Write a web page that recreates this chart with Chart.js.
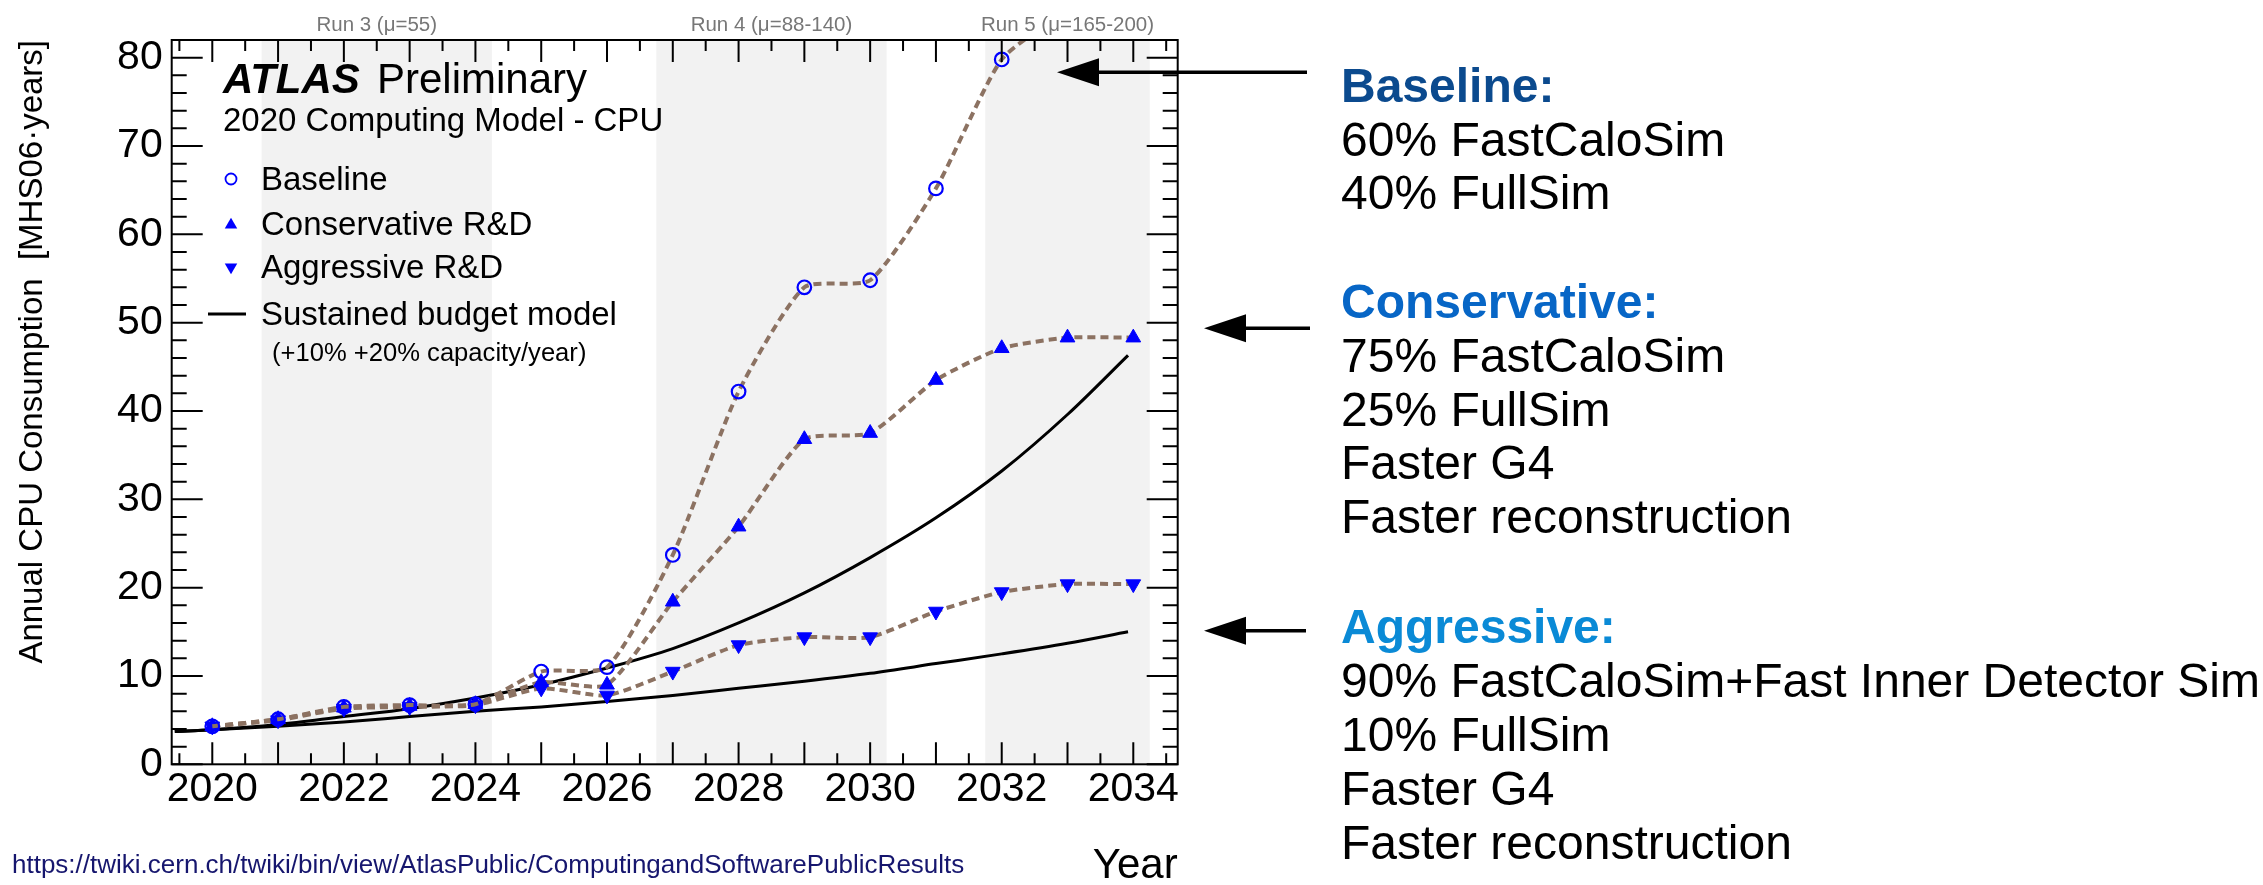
<!DOCTYPE html>
<html>
<head>
<meta charset="utf-8">
<script src="https://cdn.jsdelivr.net/npm/chart.js@4.4.1/dist/chart.umd.min.js"></script>
<style>
  html, body { margin: 0; padding: 0; background: #ffffff; }
  #wrap { width: 2263px; height: 885px; position: relative; }
</style>
</head>
<body>
<div id="wrap"><canvas id="c" width="2263" height="885"></canvas></div>
<script>
// ---- data ----
const years = [2020, 2021, 2022, 2023, 2024, 2025, 2026, 2027, 2028, 2029, 2030, 2031, 2032, 2033, 2034];
const baseline     = [4.3, 5.1, 6.5, 6.7, 6.8, 10.5, 11.0, 23.7, 42.2, 54.0, 54.8, 65.2, 79.8, 85.4, null];
const conservative = [4.3, 5.1, 6.4, 6.6, 6.8,  9.3,  9.0, 18.4, 26.9, 36.8, 37.5, 43.5, 47.1, 48.3, 48.3];
const aggressive   = [4.3, 5.0, 6.3, 6.5, 6.7,  8.6,  7.8, 10.5, 13.5, 14.4, 14.4, 17.3, 19.5, 20.4, 20.4];

// sustained budget model curves (+20% and +10% capacity per year)
const budgetYears = [2019.43, 2020, 2021, 2022, 2023, 2024, 2025, 2026, 2027, 2028, 2029, 2030, 2031, 2032, 2033, 2033.92];
const budgetHigh  = [3.7, 3.9, 4.5, 5.4, 6.3, 7.5, 9.0, 10.9, 13.1, 16.0, 19.4, 23.4, 27.9, 33.2, 39.6, 46.3];
const budgetLow   = [3.7, 3.9, 4.3, 4.8, 5.4, 6.0, 6.5, 7.1, 7.8, 8.6, 9.4, 10.3, 11.4, 12.5, 13.7, 15.0];

// LHC run periods
const runNames  = ['Run 3 (\u03bc=55)', 'Run 4 (\u03bc=88-140)', 'Run 5 (\u03bc=165-200)'];
const runStart  = [2020.75, 2026.75, 2031.75];
const runEnd    = [2024.25, 2030.25, 2034.25];

// axis tick labels
const xTickYears = [2020, 2022, 2024, 2026, 2028, 2030, 2032, 2034];
const yTickVals  = [0, 10, 20, 30, 40, 50, 60, 70, 80];

// scenario notes
const noteGroups = [
  { title: 'Baseline:',     color: '#0b4a8e', lines: ['60% FastCaloSim', '40% FullSim'] },
  { title: 'Conservative:', color: '#0766c6', lines: ['75% FastCaloSim', '25% FullSim', 'Faster G4', 'Faster reconstruction'] },
  { title: 'Aggressive:',   color: '#0a8ad6', lines: ['90% FastCaloSim+Fast Inner Detector Sim', '10% FullSim', 'Faster G4', 'Faster reconstruction'] }
];

const FONT = '"Liberation Sans", Arial, Helvetica, sans-serif';
const DASH_COLOR = '#8c7262';
const MARK_COLOR = '#0000ff';

const pts = (xs, ys) => xs.map((x, i) => ({ x, y: ys[i] }));

// ---- decorations: run bands, inward ticks, frame, texts, legend, arrows ----
const decor = {
  id: 'decor',
  beforeDatasetsDraw(chart) {
    const { ctx, chartArea: a, scales: { x } } = chart;
    ctx.save();
    ctx.fillStyle = '#f2f2f2';
    runStart.forEach((s, i) => {
      const x0 = x.getPixelForValue(s), x1 = x.getPixelForValue(runEnd[i]);
      ctx.fillRect(x0, a.top, x1 - x0, a.bottom - a.top);
    });
    ctx.restore();
  },
  afterDatasetsDraw(chart) {
    const { ctx, chartArea: a, scales: { x, y } } = chart;
    ctx.save();
    ctx.strokeStyle = '#000';
    ctx.lineWidth = 2;
    ctx.beginPath();
    for (let v = 2019.5; v <= 2034.51; v += 0.5) {
      const px = x.getPixelForValue(v);
      const len = Math.abs(v - Math.round(v)) < 1e-6 ? 22 : 11;
      ctx.moveTo(px, a.bottom); ctx.lineTo(px, a.bottom - len);
      ctx.moveTo(px, a.top);    ctx.lineTo(px, a.top + len);
    }
    for (let v = 0; v <= 80; v += 2) {
      const py = y.getPixelForValue(v);
      const len = v % 10 === 0 ? 31 : 15;
      ctx.moveTo(a.left, py);  ctx.lineTo(a.left + len, py);
      ctx.moveTo(a.right, py); ctx.lineTo(a.right - len, py);
    }
    ctx.stroke();
    ctx.strokeRect(a.left, a.top, a.right - a.left, a.bottom - a.top);
    ctx.restore();
  },
  afterDraw(chart) {
    const { ctx, scales: { x } } = chart;
    ctx.save();
    ctx.textBaseline = 'alphabetic';

    // run labels above the frame
    ctx.fillStyle = '#777777';
    ctx.font = '20.5px ' + FONT;
    ctx.textAlign = 'center';
    runNames.forEach((n, i) => {
      ctx.fillText(n, x.getPixelForValue((runStart[i] + runEnd[i]) / 2), 31);
    });

    // header
    ctx.textAlign = 'left';
    ctx.fillStyle = '#000';
    ctx.font = 'italic bold 42px ' + FONT;
    ctx.fillText('ATLAS', 223, 93);
    ctx.font = '42px ' + FONT;
    ctx.fillText('Preliminary', 377, 93);
    ctx.font = '33px ' + FONT;
    ctx.fillText('2020 Computing Model - CPU', 223, 131);

    // legend
    const mx = 231;
    ctx.font = '33px ' + FONT;
    ctx.fillText('Baseline', 261, 190);
    ctx.fillText('Conservative R&D', 261, 235);
    ctx.fillText('Aggressive R&D', 261, 278);
    ctx.fillText('Sustained budget model', 261, 325);
    ctx.font = '25.6px ' + FONT;
    ctx.fillText('(+10% +20% capacity/year)', 272, 361);

    ctx.strokeStyle = MARK_COLOR;
    ctx.fillStyle = MARK_COLOR;
    ctx.lineWidth = 1.8;
    ctx.beginPath(); ctx.arc(mx, 179, 5.5, 0, Math.PI * 2); ctx.stroke();
    const tri = (cx, cy, r, down) => {
      const s = down ? -1 : 1;
      ctx.beginPath();
      ctx.moveTo(cx, cy - s * r);
      ctx.lineTo(cx + r * 0.866, cy + s * r * 0.5);
      ctx.lineTo(cx - r * 0.866, cy + s * r * 0.5);
      ctx.closePath(); ctx.fill();
    };
    tri(mx, 225, 7.2, false);
    tri(mx, 267, 7.2, true);
    ctx.strokeStyle = '#000';
    ctx.lineWidth = 3;
    ctx.beginPath(); ctx.moveTo(208, 314); ctx.lineTo(246, 314); ctx.stroke();

    // source link
    ctx.fillStyle = '#16166e';
    ctx.font = '26px ' + FONT;
    ctx.fillText('https://twiki.cern.ch/twiki/bin/view/AtlasPublic/ComputingandSoftwarePublicResults', 12, 873);

    // arrows pointing at the scenarios
    const arrow = (tipX, yy, endX) => {
      ctx.fillStyle = '#000';
      ctx.strokeStyle = '#000';
      ctx.lineWidth = 3.5;
      ctx.beginPath(); ctx.moveTo(tipX + 30, yy); ctx.lineTo(endX, yy); ctx.stroke();
      ctx.beginPath();
      ctx.moveTo(tipX, yy);
      ctx.lineTo(tipX + 42, yy - 14);
      ctx.lineTo(tipX + 42, yy + 14);
      ctx.closePath(); ctx.fill();
    };
    arrow(1057, 72.3, 1307);
    arrow(1204, 328.3, 1310);
    arrow(1204, 630.7, 1306);

    // scenario descriptions
    const starts = [101.7, 318, 643.3];
    const lh = 53.8;
    noteGroups.forEach((g, gi) => {
      let yy = starts[gi];
      ctx.font = 'bold 48px ' + FONT;
      ctx.fillStyle = g.color;
      ctx.fillText(g.title, 1341, yy);
      ctx.font = '48px ' + FONT;
      ctx.fillStyle = '#000';
      g.lines.forEach(l => { yy += lh; ctx.fillText(l, 1341, yy); });
    });
    ctx.restore();
  }
};

const dashed = {
  borderColor: DASH_COLOR,
  borderWidth: 4,
  borderDash: [8, 5],
  tension: 0.2,
  clip: 0,
  pointBackgroundColor: MARK_COLOR,
  pointBorderColor: MARK_COLOR,
  pointHoverRadius: 0
};

new Chart(document.getElementById('c'), {
  type: 'line',
  data: {
    datasets: [
      { label: 'Sustained budget model +20%', data: pts(budgetYears, budgetHigh), borderColor: '#000', borderWidth: 3,
        pointRadius: 0, cubicInterpolationMode: 'monotone', clip: 0, order: 5 },
      { label: 'Sustained budget model +10%', data: pts(budgetYears, budgetLow), borderColor: '#000', borderWidth: 3,
        pointRadius: 0, cubicInterpolationMode: 'monotone', clip: 0, order: 4 },
      Object.assign({ label: 'Aggressive R&D', data: pts(years, aggressive), pointStyle: 'triangle', rotation: 180,
        pointRadius: 8.5, pointBorderWidth: 1, order: 3 }, dashed),
      Object.assign({ label: 'Conservative R&D', data: pts(years, conservative), pointStyle: 'triangle', rotation: 0,
        pointRadius: 8.5, pointBorderWidth: 1, order: 2 }, dashed),
      Object.assign({}, dashed, { label: 'Baseline', data: pts(years, baseline), pointStyle: 'circle',
        pointRadius: 6.8, pointBorderWidth: 2.2, pointBackgroundColor: 'rgba(0,0,0,0)', order: 1 })
    ]
  },
  options: {
    responsive: false,
    animation: false,
    devicePixelRatio: 1,
    layout: { padding: { left: 0, top: 40, right: 1085.3, bottom: 0 } },
    plugins: { legend: { display: false }, tooltip: { enabled: false } },
    scales: {
      x: {
        type: 'linear', min: 2019.383, max: 2034.675,
        grid: { display: false, drawTicks: false }, border: { display: false },
        afterBuildTicks: s => { s.ticks = xTickYears.map(v => ({ value: v })); },
        ticks: { autoSkip: false, maxRotation: 0, minRotation: 0, padding: 1, color: '#000',
                 font: { family: FONT, size: 41 }, callback: v => String(v) },
        title: { display: true, text: 'Year', align: 'end', color: '#000',
                 font: { family: FONT, size: 42, lineHeight: 1 }, padding: { top: 0, bottom: -2 } },
        afterFit: s => { s.height = 120.7; }
      },
      y: {
        type: 'linear', min: 0, max: 82,
        grid: { display: false, drawTicks: false }, border: { display: false },
        afterBuildTicks: s => { s.ticks = yTickVals.map(v => ({ value: v })); },
        ticks: { autoSkip: false, padding: 9, color: '#000', font: { family: FONT, size: 41 }, callback: v => String(v) },
        title: { display: true, text: 'Annual CPU Consumption  [MHS06\u00b7years]', align: 'end', color: '#000',
                 font: { family: FONT, size: 33 }, padding: { top: 13.4, bottom: 0 } },
        afterFit: s => { s.width = 171.7; }
      }
    }
  },
  plugins: [decor]
});
</script>
</body>
</html>
